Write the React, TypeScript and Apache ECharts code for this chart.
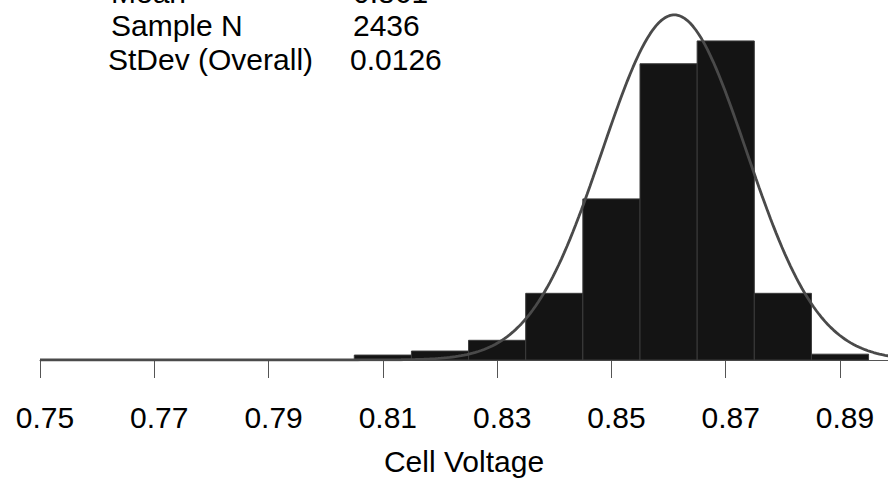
import React, { useEffect, useRef } from "react";
import * as echarts from "echarts";

// Histogram bins (bin width 0.01, centred on the listed voltages)
const binCenters = [0.81, 0.82, 0.83, 0.84, 0.85, 0.86, 0.87, 0.88, 0.89];
const binCounts = [11, 20, 44, 149, 360, 662, 713, 149, 13];
const binWidth = 0.01;

// Summary statistics shown in the chart
const statLabels = ["Mean", "Sample N", "StDev (Overall)"];
const statValues = ["0.861", "2436", "0.0126"];
const mean = 0.861;
const sampleN = 2436;
const stdev = 0.0126;

// Axis ticks
const tickValues = [0.75, 0.77, 0.79, 0.81, 0.83, 0.85, 0.87, 0.89];
const xMin = 0.75;
const xMax = 0.8984;

const FONT = 'Arial, "Liberation Sans", sans-serif';

// Fitted normal curve (from the displayed mean / stdev), scaled to counts
function fittedCurve(): number[][] {
  const pts: number[][] = [];
  const steps = 300;
  for (let i = 0; i <= steps; i++) {
    const x = xMin + ((xMax + 0.002 - xMin) * i) / steps;
    const z = (x - mean) / stdev;
    const y =
      (sampleN * binWidth * Math.exp(-0.5 * z * z)) /
      (stdev * Math.sqrt(2 * Math.PI));
    pts.push([x, y]);
  }
  return pts;
}

export default function App() {
  const ref = useRef<HTMLDivElement>(null);
  useEffect(() => {
    if (!ref.current) return;
    const chart = echarts.init(ref.current, undefined, { renderer: "svg" });
    const rowY = [-8, 25.5, 59];
    const labelX = [111, 111, 108];
    const valueX = [353, 353, 350];
    const graphics: any[] = [];
    statLabels.forEach((l, i) => {
      graphics.push({
        type: "text",
        x: labelX[i],
        y: rowY[i],
        style: {
          text: l,
          fontSize: 30,
          fontFamily: FONT,
          fill: "#000",
          verticalAlign: "middle",
          align: "left",
        },
      });
      graphics.push({
        type: "text",
        x: valueX[i],
        y: rowY[i],
        style: {
          text: statValues[i],
          fontSize: 30,
          fontFamily: FONT,
          fill: "#000",
          verticalAlign: "middle",
          align: "left",
        },
      });
    });

    chart.setOption({
      animation: false,
      backgroundColor: "#fff",
      grid: { left: 40, right: 0, top: 0, bottom: 119 },
      xAxis: {
        type: "value",
        min: xMin,
        max: xMax,
        offset: 20,
        axisLine: { show: true, lineStyle: { color: "#555", width: 1 } },
        axisTick: {
          show: true,
          length: 18,
          customValues: tickValues,
          lineStyle: { color: "#555", width: 1 },
        },
        axisLabel: {
          customValues: tickValues,
          fontSize: 30,
          fontFamily: FONT,
          color: "#000",
          margin: 22,
          padding: [0, 0, 0, 10],
          formatter: (v: number) => v.toFixed(2),
        },
        splitLine: { show: false },
        name: "Cell Voltage",
        nameLocation: "middle",
        nameGap: 66,
        nameTextStyle: { fontSize: 30, fontFamily: FONT, color: "#000" },
      },
      yAxis: { type: "value", show: false, min: 0, max: 804.5 },
      series: [
        {
          type: "custom",
          data: binCenters.map((c, i) => [c, binCounts[i]]),
          renderItem: (params: any, api: any) => {
            const c = api.value(0);
            const v = api.value(1);
            const p0 = api.coord([c - binWidth / 2, v]);
            const p1 = api.coord([c + binWidth / 2, 0]);
            return {
              type: "rect",
              shape: { x: p0[0], y: p0[1], width: p1[0] - p0[0], height: p1[1] - p0[1] },
              style: { fill: "#141414", stroke: "#3a3a3a", lineWidth: 1 },
            };
          },
          z: 1,
        },
        {
          type: "line",
          data: fittedCurve(),
          showSymbol: false,
          smooth: false,
          lineStyle: { color: "#4a4a4a", width: 2.8 },
          z: 2,
        },
      ],
      graphic: graphics,
    });
    return () => chart.dispose();
  }, []);
  return (
    <div
      ref={ref}
      style={{ position: "fixed", left: 0, top: 0, width: 888, height: 481 }}
    />
  );
}
